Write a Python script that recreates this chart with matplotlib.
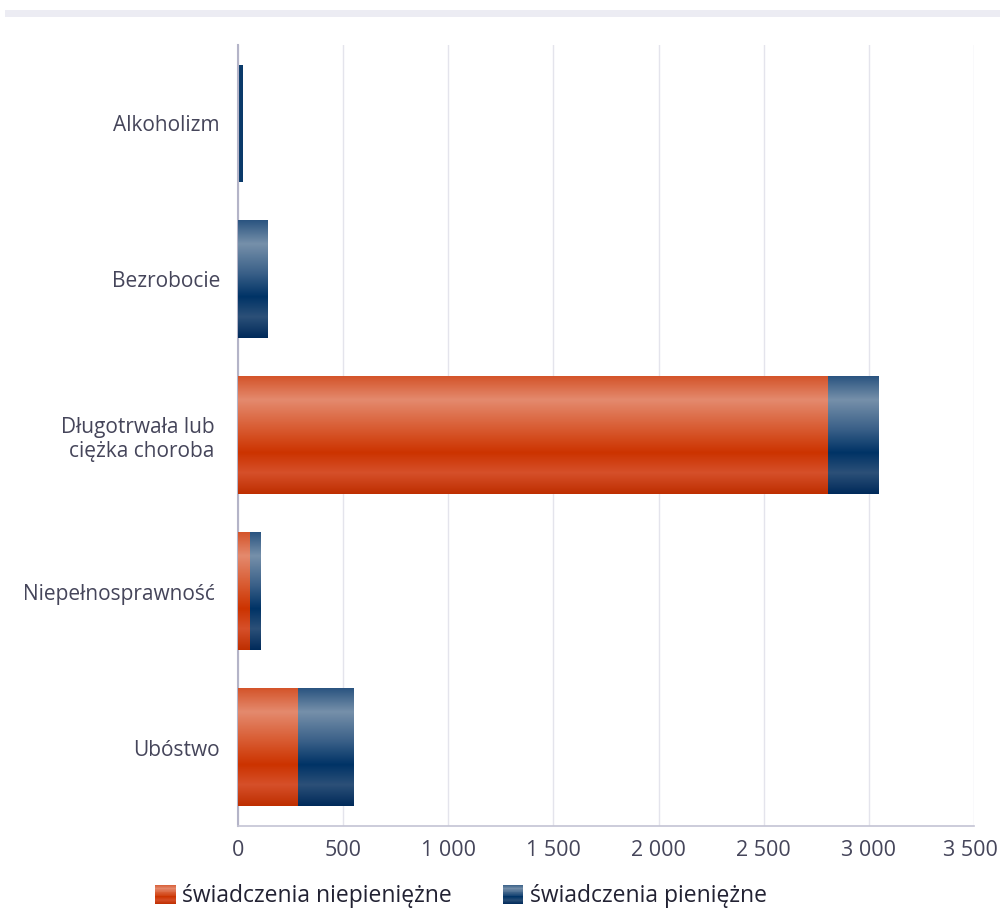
import numpy as np
import matplotlib
matplotlib.use("Agg")
import matplotlib.pyplot as plt
import matplotlib.transforms as mtransforms
from matplotlib.colors import LinearSegmentedColormap
from matplotlib.patches import Rectangle
from matplotlib.legend_handler import HandlerBase

categories = ["Alkoholizm", "Bezrobocie", "Długotrwała lub \nciężka choroba ", "Niepełnosprawność ", "Ubóstwo"]
niepieniezne = [0, 0, 2805, 57, 285]
pieniezne = [24, 138, 242, 52, 262]
xticks = [0, 500, 1000, 1500, 2000, 2500, 3000, 3500]
xtick_labels = ["0", "500", "1 000", "1 500", "2 000", "2 500", "3 000", "3 500"]
series_names = ["świadczenia niepieniężne", "świadczenia pieniężne"]

plt.rcParams['font.family'] = ['Open Sans', 'DejaVu Sans']
text_color = "#45455a"

red_cmap = LinearSegmentedColormap.from_list("red", [
    (0.0, "#d4542a"), (0.2, "#e48a6e"), (0.45, "#d85a30"),
    (0.65, "#cc3300"), (0.82, "#d6502a"), (1.0, "#be2e00")])
blue_cmap = LinearSegmentedColormap.from_list("blue", [
    (0.0, "#2a5480"), (0.2, "#7690aa"), (0.45, "#3a6088"),
    (0.65, "#003366"), (0.82, "#2c5078"), (1.0, "#002a5a")])

fig = plt.figure(figsize=(10, 9.09), dpi=100)
fig.patches.append(Rectangle((0.005, (909 - 17) / 909), 0.995, 7 / 909,
                             transform=fig.transFigure, facecolor="#ececf3",
                             edgecolor="none"))
ax = fig.add_axes([0.238, 83 / 909, 0.736, (826 - 45) / 909])

y = np.arange(len(categories))
h = 0.75
b1 = ax.barh(y, niepieniezne, height=h, color="#cc3300", zorder=2)
b2 = ax.barh(y, pieniezne, left=niepieniezne, height=h, color="#0a3a6a", zorder=2)

grad = np.linspace(0, 1, 256).reshape(-1, 1)
for cont, cmap in ((b1, red_cmap), (b2, blue_cmap)):
    for p in cont.patches:
        x0, y0, w, hh = p.get_x(), p.get_y(), p.get_width(), p.get_height()
        if w < 40:
            continue
        ax.imshow(grad, cmap=cmap, aspect="auto", origin="upper",
                  extent=(x0, x0 + w, y0 + hh, y0), zorder=3,
                  interpolation="bilinear")

ax.set_xlim(0, 3500)
ax.set_ylim(len(categories) - 0.5, -0.5)
ax.set_xticks(xticks)
ax.set_xticklabels(xtick_labels)
ax.set_yticks(y)
ax.set_yticklabels(categories, ha="right")
ax.tick_params(axis="both", length=0, colors=text_color)
ax.tick_params(axis="y", pad=13, labelsize=15)
ax.tick_params(axis="x", pad=10, labelsize=15.5)
ax.grid(axis="x", color="#e4e4ec", linewidth=1, zorder=0)
ax.set_axisbelow(True)
for s in ("top", "right"):
    ax.spines[s].set_visible(False)
ax.spines["left"].set_color("#b4b4c8")
ax.spines["left"].set_linewidth(1.5)
ax.spines["bottom"].set_color("#c4c4d4")
ax.spines["bottom"].set_linewidth(1.2)

# shift last tick label left slightly so it fits in the figure
last = ax.get_xticklabels()[-1]
last.set_transform(last.get_transform() +
                   mtransforms.ScaledTranslation(-4 / 100, 0, fig.dpi_scale_trans))


class GradHandler(HandlerBase):
    def __init__(self, cmap):
        super().__init__()
        self.cmap = cmap

    def create_artists(self, legend, orig_handle, xdescent, ydescent,
                       width, height, fontsize, trans):
        n = 24
        arts = []
        for i in range(n):
            frac = (i + 0.5) / n
            r = Rectangle((-xdescent, -ydescent + height * (1 - (i + 1) / n)),
                          width, height / n * 1.05, facecolor=self.cmap(frac),
                          edgecolor="none", transform=trans)
            arts.append(r)
        return arts


leg = fig.legend([b1, b2], series_names, loc="center",
                 bbox_to_anchor=(0.461, (909 - 896) / 909), ncol=2,
                 frameon=False, fontsize=16.5, handlelength=0.9, handleheight=0.9,
                 handletextpad=0.3, columnspacing=2.2,
                 handler_map={b1: GradHandler(red_cmap), b2: GradHandler(blue_cmap)})
for t in leg.get_texts():
    t.set_color("#222233")

fig.savefig("out.png", dpi=100)
